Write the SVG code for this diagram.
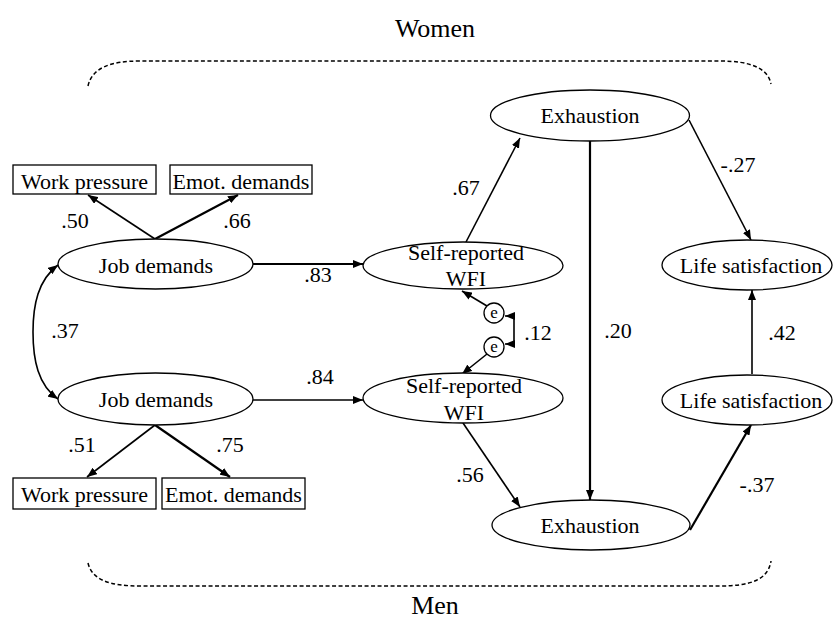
<svg xmlns="http://www.w3.org/2000/svg" width="834" height="627" viewBox="0 0 834 627" font-family="'Liberation Serif', 'Times New Roman', Times, 'DejaVu Serif', serif">
<style>
text{font-family:'Liberation Serif','Times New Roman',Times,'DejaVu Serif',serif;fill:#000}
.t{font-size:22px;text-anchor:middle}
.lbl{font-size:22px;text-anchor:middle}
.title{font-size:26px;text-anchor:middle}
.e{font-size:17px;text-anchor:middle}
ellipse,rect,circle{fill:#fff;stroke:#000;stroke-width:1.3}
.c{fill:none;stroke:#000;stroke-width:1.6;marker-end:url(#ah)}
.cb{fill:none;stroke:#000;stroke-width:1.6;marker-start:url(#ah);marker-end:url(#ah)}
.thick{stroke-width:2.2}
.br{fill:none;stroke:#000;stroke-width:1.5;stroke-dasharray:4 2.5}
</style>
<defs>
<marker id="ah" markerUnits="userSpaceOnUse" markerWidth="10" markerHeight="8" viewBox="0 0 10 8" refX="10" refY="4" orient="auto-start-reverse">
<path d="M0,0 L10,4 L0,8 z" fill="#000"/>
</marker>
</defs>
<text class="title" x="435" y="37">Women</text>
<text class="title" x="435" y="614">Men</text>
<path class="br" d="M88,86 C92,68 110,61 140,61 L720,61 C750,61 768,68 771,84"/>
<path class="br" d="M88,563 C92,580 110,586 140,586 L720,586 C750,586 768,580 771,561"/>
<g id="connectors">
<path class="c" d="M155,239 L88,195"/>
<path class="c thick" d="M155,239 L238,195"/>
<path class="c" d="M155,425 L87,477"/>
<path class="c thick" d="M155,425 L230,477"/>
<path class="c thick" d="M253,264 L363,264"/>
<path class="c" d="M253,400 L363,400"/>
<path class="cb" d="M58,265 C38,280 33,305 33,332 C33,360 38,385 58,399"/>
<path class="c" d="M466,242 L520,138"/>
<path class="c" d="M487,306 L462,291"/>
<path class="c" d="M487,354 L462,374"/>
<path class="cb" d="M505,316 H514 V344 H505"/>
<path class="c" d="M689,120 L751,240"/>
<path class="c thick" d="M590,141 L590,500"/>
<path class="c" d="M463,423 L520,507"/>
<path class="c thick" d="M690,530 L751,425"/>
<path class="c" d="M752,374 L752,290"/>
</g>
<g id="wp1"><rect x="13" y="165" width="143" height="29"/><text class="t" x="84.5" y="189">Work pressure</text></g>
<g id="em1"><rect x="170" y="165" width="142" height="29"/><text class="t" x="241" y="189">Emot. demands</text></g>
<g id="wp2"><rect x="13" y="478" width="143" height="31"/><text class="t" x="84.5" y="502">Work pressure</text></g>
<g id="em2"><rect x="162" y="478" width="143" height="31"/><text class="t" x="233.5" y="502">Emot. demands</text></g>
<g id="jd1"><ellipse cx="155.5" cy="264" rx="97.5" ry="25"/><text class="t" x="156" y="273">Job demands</text></g>
<g id="jd2"><ellipse cx="155.5" cy="399" rx="97.5" ry="26"/><text class="t" x="156" y="407">Job demands</text></g>
<g id="wfi1"><ellipse cx="463" cy="265.5" rx="100" ry="23.5"/><text class="t" x="466" y="260">Self-reported</text><text class="t" x="466" y="286">WFI</text></g>
<g id="wfi2"><ellipse cx="463" cy="398" rx="100" ry="25"/><text class="t" x="464" y="393">Self-reported</text><text class="t" x="464" y="420">WFI</text></g>
<g id="e1"><circle cx="494" cy="313" r="10"/><text class="e" x="494" y="318">e</text></g>
<g id="e2"><circle cx="494" cy="347" r="10"/><text class="e" x="494" y="352">e</text></g>
<g id="exh1"><ellipse cx="590" cy="115.5" rx="99.5" ry="25.5"/><text class="t" x="590" y="123">Exhaustion</text></g>
<g id="exh2"><ellipse cx="591" cy="525" rx="99" ry="25"/><text class="t" x="590" y="533">Exhaustion</text></g>
<g id="ls1"><ellipse cx="747" cy="265" rx="85" ry="25"/><text class="t" x="751" y="273">Life satisfaction</text></g>
<g id="ls2"><ellipse cx="747" cy="400" rx="85" ry="25"/><text class="t" x="751" y="408">Life satisfaction</text></g>
<g id="labels">
<text class="lbl" x="75" y="228">.50</text>
<text class="lbl" x="237" y="228">.66</text>
<text class="lbl" x="318" y="282">.83</text>
<text class="lbl" x="320" y="384">.84</text>
<text class="lbl" x="82" y="452">.51</text>
<text class="lbl" x="230" y="452">.75</text>
<text class="lbl" x="65" y="338">.37</text>
<text class="lbl" x="466" y="195">.67</text>
<text class="lbl" x="538" y="340">.12</text>
<text class="lbl" x="618" y="338">.20</text>
<text class="lbl" x="738" y="172">-.27</text>
<text class="lbl" x="782" y="340">.42</text>
<text class="lbl" x="470" y="482">.56</text>
<text class="lbl" x="757" y="492">-.37</text>
</g>
</svg>
